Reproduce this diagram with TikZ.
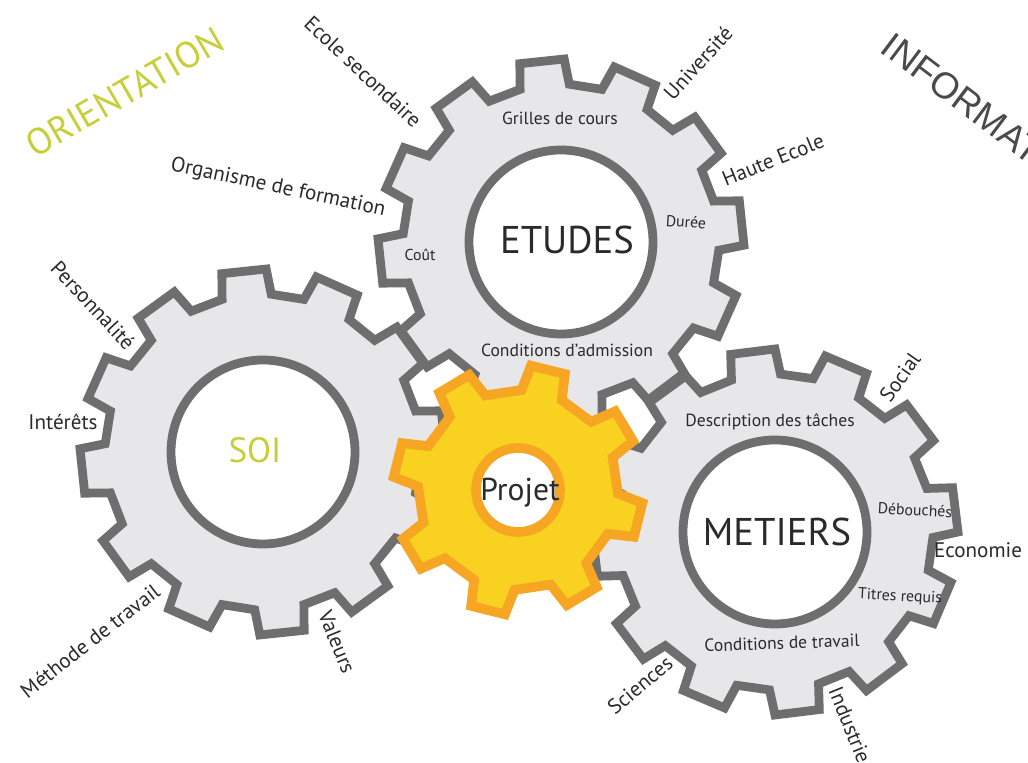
\documentclass[tikz,border=0pt]{standalone}
\usepackage{fontspec}
\setmainfont{PT Sans}
\newfontfamily\arialfont{Liberation Sans}
\definecolor{rimgrey}{HTML}{6E6E6E}
\definecolor{bodygrey}{HTML}{E7E7E9}
\definecolor{inkgrey}{HTML}{2A2A2A}
\definecolor{orientgreen}{RGB}{200,206,56}
\definecolor{cogyellow}{HTML}{F9D221}
\definecolor{cogorange}{HTML}{F6A623}

% outline of a grey gear: centre, phase of the teeth
\newcommand{\gearpath}[2]{([shift={(#1)}]#2-9:158)
  \foreach \k in {0,...,11}{
    -- ([shift={(#1)}]#2+30*\k-9:158) -- ([shift={(#1)}]#2+30*\k-7:183)
    -- ([shift={(#1)}]#2+30*\k+7:183) -- ([shift={(#1)}]#2+30*\k+9:158)} -- cycle}

\begin{document}
\begin{tikzpicture}[x=0.02cm,y=0.02cm]
\tikzstyle{body}=[fill=bodygrey]
\tikzstyle{rim}=[draw=rimgrey,line width=5pt]
\tikzstyle{hub}=[draw=rimgrey,line width=5pt,fill=white]
\tikzstyle{cog}=[draw=cogorange,fill=cogyellow,line width=5.5pt]
\tikzstyle{coghub}=[draw=cogorange,fill=white,line width=5.5pt]
\tikzstyle{biglabel}=[font=\fontsize{22}{26}\selectfont,text=inkgrey]
\tikzstyle{outlabel}=[font=\fontsize{12}{14}\selectfont,text=inkgrey]
\tikzstyle{inlabel}=[font=\fontsize{10}{12}\selectfont,text=inkgrey]
\tikzstyle{smalllabel}=[font=\fontsize{9}{11}\selectfont,text=inkgrey]

\useasboundingbox (0,0) rectangle (1028,763);
\clip (0,0) rectangle (1028,763);

\coordinate (etudes) at (561,521);
\coordinate (soi) at (263,311);
\coordinate (metiers) at (775,231);
\coordinate (projet) at (518,273);

% grey gears
\fill[body] \gearpath{etudes}{6};
\fill[body] \gearpath{soi}{6};
\fill[body] \gearpath{metiers}{7};
\begin{scope}
\clip \gearpath{etudes}{6};
\fill[white] \gearpath{soi}{6};
\fill[white] \gearpath{metiers}{7};
\end{scope}
\draw[rim] \gearpath{etudes}{6};
\draw[rim] \gearpath{soi}{6};
\draw[rim] \gearpath{metiers}{7};
\draw[hub] (etudes) circle (92);
\draw[hub] (soi) circle (92);
\draw[hub] (metiers) circle (92);

% yellow gear
\draw[cog] ([shift={(projet)}]19:100)
  \foreach \k in {0,...,7}{
    -- ([shift={(projet)}]31+45*\k-12:100) -- ([shift={(projet)}]31+45*\k-8:125)
    -- ([shift={(projet)}]31+45*\k+8:125) -- ([shift={(projet)}]31+45*\k+12:100)} -- cycle;
\draw[coghub] (projet) circle (42);

% titles
\node[font=\fontsize{21}{24}\selectfont,text=orientgreen,rotate=30] (orient) at (125,671) {ORIENTATION};
\node[font=\arialfont\fontsize{21}{24}\selectfont,text=inkgrey!85,rotate=-37,anchor=base west] (info) at (874,715) {INFORMATION};

% gear names
\node[biglabel] (etudesname) at (567,523) {ETUDES};
\node[biglabel] (metiersname) at (777,231) {METIERS};
\node[font=\fontsize{20}{24}\selectfont,text=orientgreen] (soiname) at (255,313) {SOI};
\node[font=\fontsize{18}{21}\selectfont,text=inkgrey] (projetname) at (520,270) {Projet};

% etudes
\node[outlabel,rotate=-43] (ecole) at (363,691) {Ecole secondaire};
\node[outlabel,rotate=48] (univ) at (698,700) {Université};
\node[outlabel,rotate=22] (haute) at (773,603) {Haute Ecole};
\node[outlabel,rotate=-12] (organisme) at (278,575) {Organisme de formation};
\node[inlabel] (grilles) at (560,645) {Grilles de cours};
\node[smalllabel] (cout) at (420,508) {Coût};
\node[smalllabel,rotate=-4] (duree) at (686,541) {Durée};
\node[inlabel] (admission) at (567,413) {Conditions d’admission};

% soi
\node[outlabel,rotate=-47] (perso) at (93,458) {Personnalité};
\node[outlabel] (interets) at (63,341) {Intérêts};
\node[outlabel,rotate=38] (methode) at (90,122) {Méthode de travail};
\node[outlabel,rotate=-68] (valeurs) at (337,121) {Valeurs};

% metiers
\node[inlabel] (taches) at (770,341) {Description des tâches};
\node[outlabel,rotate=55] (social) at (900,386) {Social};
\node[smalllabel,rotate=-3] (debouches) at (915,253) {Débouchés};
\node[outlabel] (economie) at (978,213) {Economie};
\node[smalllabel,rotate=-3] (titres) at (900,166) {Titres requis};
\node[inlabel,rotate=2] (travail) at (782,120) {Conditions de travail};
\node[outlabel,rotate=40] (sciences) at (640,78) {Sciences};
\node[outlabel,rotate=-68] (industrie) at (850,38) {Industrie};
\end{tikzpicture}
\end{document}
